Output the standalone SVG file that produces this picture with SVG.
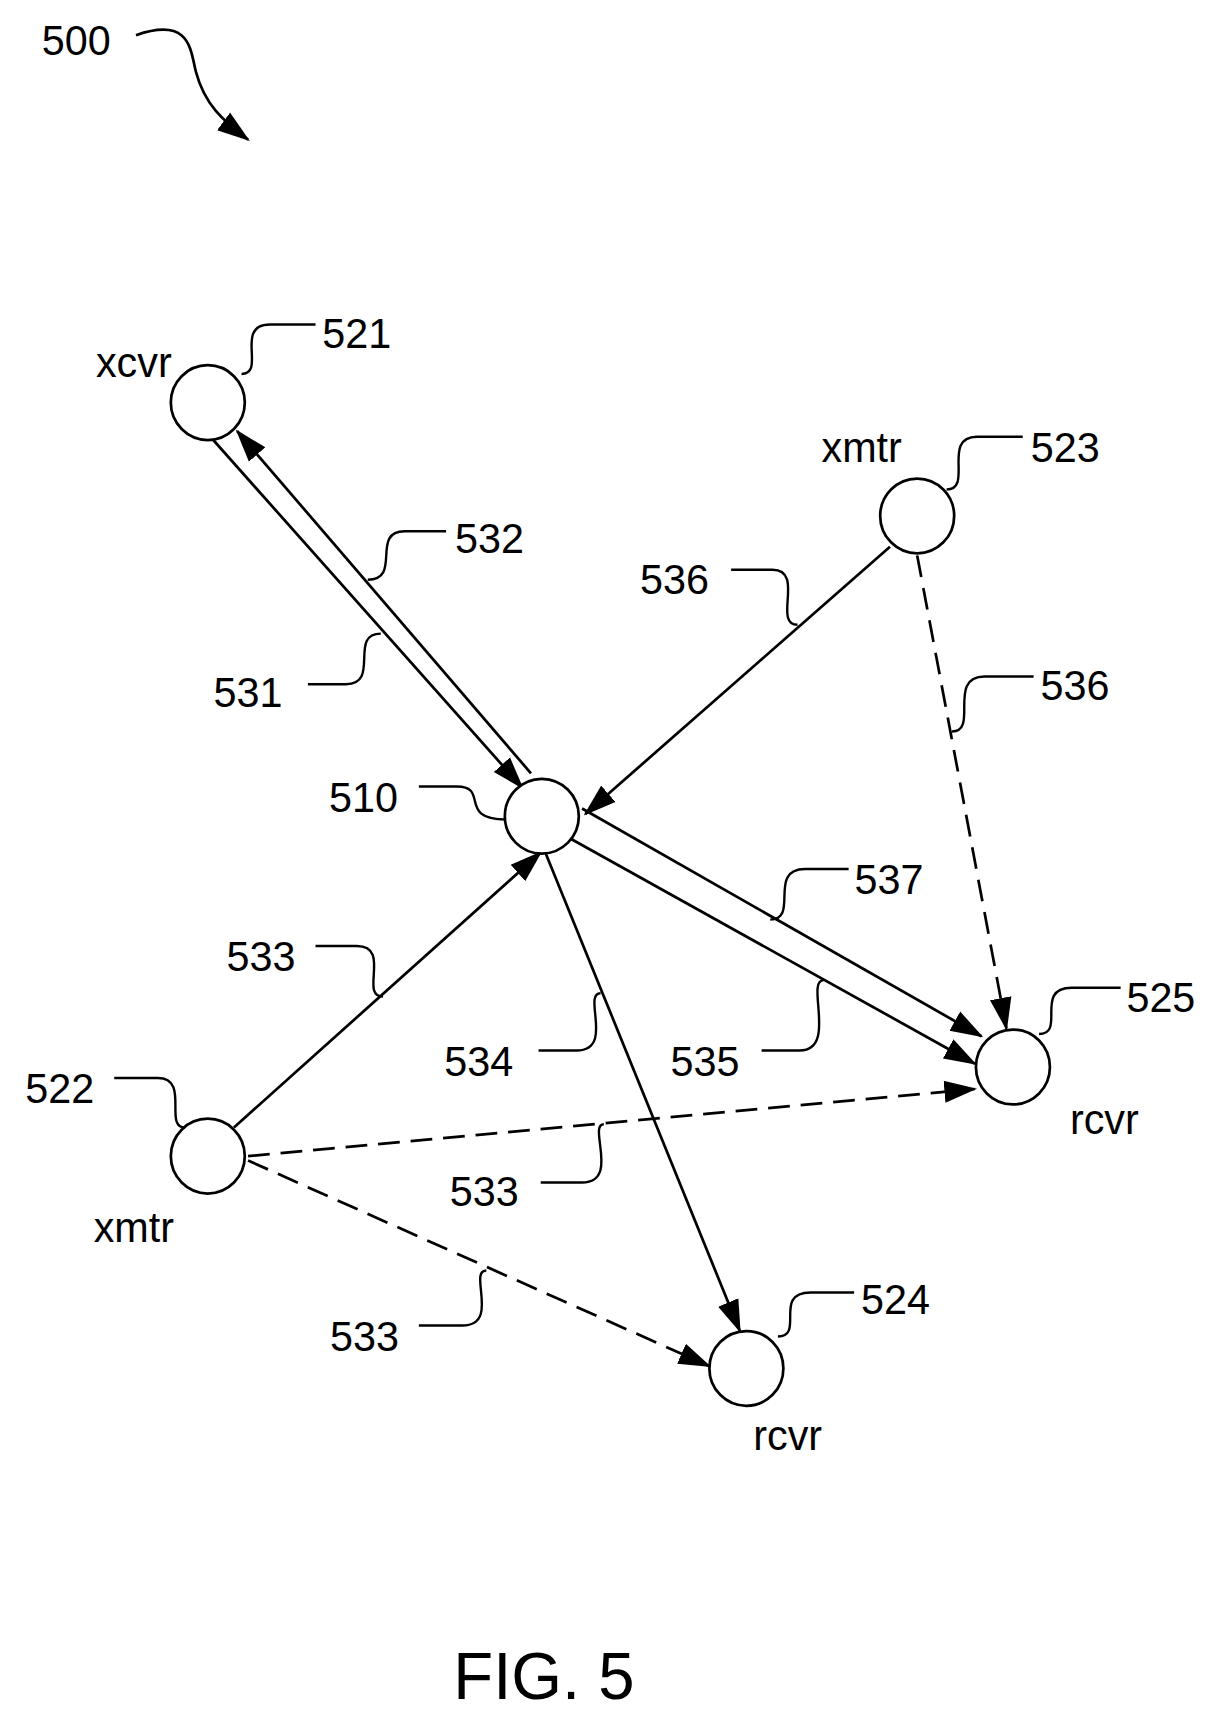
<svg xmlns="http://www.w3.org/2000/svg" width="1230" height="1717" viewBox="0 0 1230 1717">
<style>
text{font-family:"Liberation Sans",Arial,sans-serif;font-size:38px;fill:#000;text-anchor:middle}
.n{fill:#fff;stroke:#000;stroke-width:2.5}
.e{fill:none;stroke:#000;stroke-width:2.5;marker-end:url(#ah)}
.d{stroke-dasharray:20 10}
.l{fill:none;stroke:#000;stroke-width:2.2}
</style>
<defs><marker id="ah" markerUnits="userSpaceOnUse" markerWidth="30" markerHeight="22" refX="28" refY="10" orient="auto" viewBox="0 0 30 20"><path d="M0,0 L30,10 L0,20 z" fill="#000"/></marker></defs>
<rect width="1230" height="1717" fill="#fff"/>
<g transform="scale(1.088,1.1)">
<g id="connectors">
<path class="e" d="M196,400 L480,716"/>
<path class="e" d="M488,703 L218,392"/>
<path class="e" d="M818,497 L538,740"/>
<path class="e d" d="M843,505 L925,935"/>
<path class="e" d="M535,735 L902,942"/>
<path class="e" d="M520,760 L896,967"/>
<path class="e" d="M500,772 L680,1210"/>
<path class="e" d="M215,1025 L497,775"/>
<path class="e d" d="M228,1051 L896,990"/>
<path class="e d" d="M228,1055 L652,1242"/>
<path class="e" d="M125,32 C175,15 175,45 180,65 C188,95 205,110 228,127"/>
<path class="l" d="M410,483 H372 C340,483 370,527 338,527"/>
<path class="l" d="M283,622 H318 C350,622 320,576 350,576"/>
<path class="l" d="M672,518 H710 C740,518 710,568 733,568"/>
<path class="l" d="M950,615 H905 C870,615 900,665 875,665"/>
<path class="l" d="M780,790 H740 C705,790 735,836 708,836"/>
<path class="l" d="M290,860 H328 C360,860 330,906 352,906"/>
<path class="l" d="M495,955 H530 C565,955 535,903 552,903"/>
<path class="l" d="M700,955 H735 C770,955 740,891 757,891"/>
<path class="l" d="M497,1075 H535 C570,1075 540,1022 555,1022"/>
<path class="l" d="M385,1205 H425 C460,1205 430,1155 447,1155"/>
</g>
<text x="70" y="50">500</text>
<g id="n521"><circle class="n" cx="191" cy="366" r="34"/><text x="123" y="343">xcvr</text><text x="328" y="316">521</text><path class="l" d="M290,295 H248 C215,295 245,340 222,340"/></g>
<g id="n523"><circle class="n" cx="843" cy="469" r="34"/><text x="792" y="420">xmtr</text><text x="979" y="420">523</text><path class="l" d="M940,397 H898 C865,397 895,445 870,445"/></g>
<g id="n510"><circle class="n" cx="498" cy="742" r="34"/><text x="334" y="738">510</text><path class="l" d="M385,715 H420 C450,715 420,745 465,745"/></g>
<g id="n522"><circle class="n" cx="191" cy="1051" r="34"/><text x="55" y="1003">522</text><text x="123" y="1129">xmtr</text><path class="l" d="M105,980 H145 C175,980 150,1025 170,1025"/></g>
<g id="n525"><circle class="n" cx="931" cy="970" r="34"/><text x="1067" y="920">525</text><text x="1015" y="1031">rcvr</text><path class="l" d="M1030,898 H985 C950,898 980,940 955,940"/></g>
<g id="n524"><circle class="n" cx="686" cy="1244" r="34"/><text x="823" y="1195">524</text><text x="724" y="1318">rcvr</text><path class="l" d="M785,1175 H745 C710,1175 740,1215 715,1215"/></g>
<text x="450" y="503">532</text>
<text x="228" y="643">531</text>
<text x="620" y="540">536</text>
<text x="988" y="636">536</text>
<text x="817" y="813">537</text>
<text x="240" y="883">533</text>
<text x="440" y="978">534</text>
<text x="648" y="978">535</text>
<text x="445" y="1096">533</text>
<text x="335" y="1228">533</text>
<text x="500" y="1545" style="font-size:60px">FIG. 5</text>
</g>
</svg>
